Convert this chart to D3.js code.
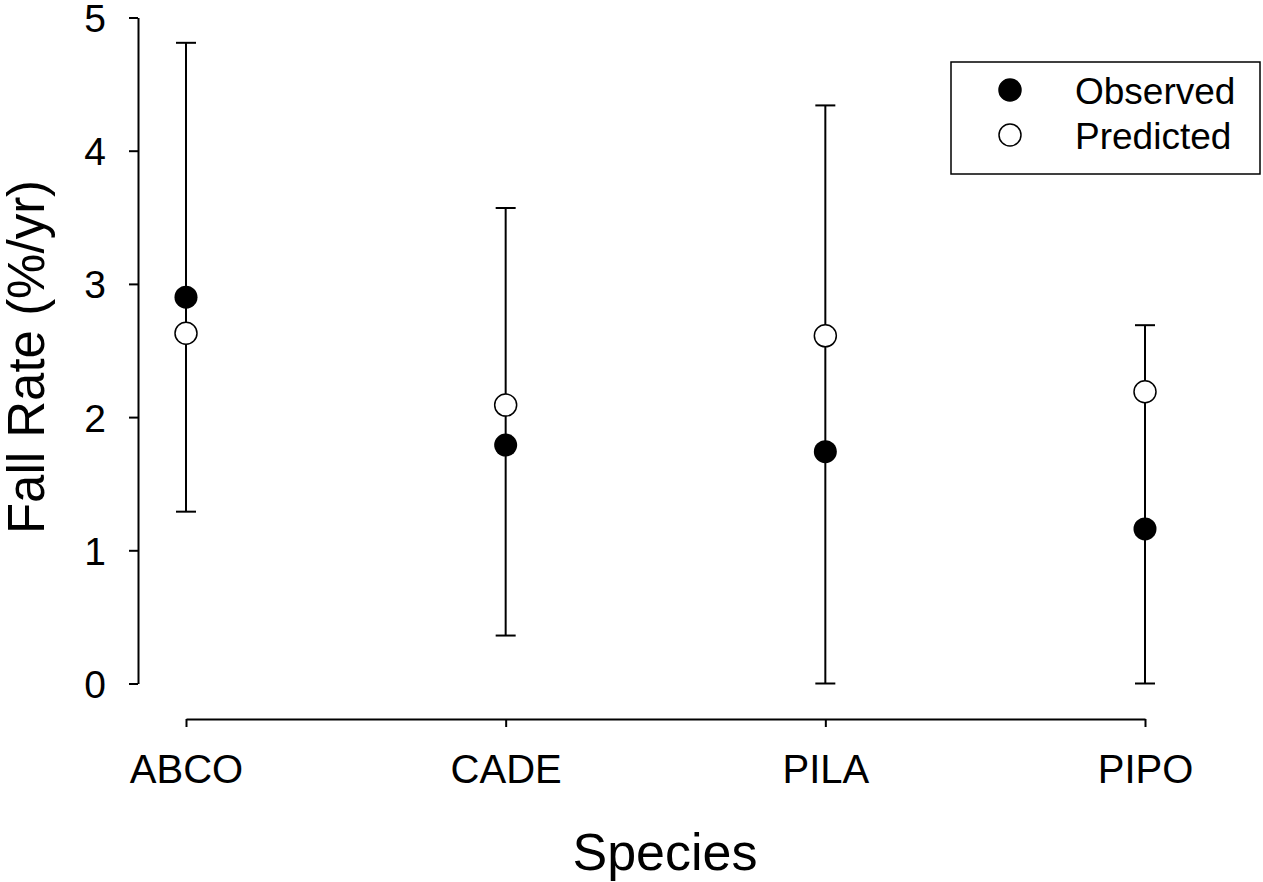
<!DOCTYPE html>
<html>
<head>
<meta charset="utf-8">
<script src="https://cdn.jsdelivr.net/npm/d3@7"></script>
<style>
  body { margin: 0; background: #fff; }
  text { font-family: "Liberation Sans", Arial, sans-serif; fill: #000; }
</style>
</head>
<body>
<div id="chart"></div>
<script>
const species = ["ABCO", "CADE", "PILA", "PIPO"];
const observed = [2.90, 1.79, 1.74, 1.16];
const predicted = [2.63, 2.09, 2.61, 2.19];
const errLow = [1.29, 0.36, 0.0, 0.0];
const errHigh = [4.81, 3.57, 4.34, 2.69];
const yTicks = [0, 1, 2, 3, 4, 5];

const width = 1263, height = 882;

const svg = d3.select("#chart").append("svg")
    .attr("width", width)
    .attr("height", height);

const x = d3.scalePoint()
    .domain(species)
    .range([186, 1145]);

const y = d3.scaleLinear()
    .domain([0, 5])
    .range([683.5, 17.5]);

// y axis
const yAxis = svg.append("g")
    .attr("transform", "translate(138,0)")
    .call(d3.axisLeft(y).tickValues(yTicks).tickFormat(d3.format("d"))
        .tickSize(9).tickSizeOuter(0).tickPadding(23));
yAxis.selectAll("path, line").attr("stroke", "#000").attr("stroke-width", 2);
yAxis.selectAll("text").style("font-size", "39px").attr("dy", "0.36em");

// x axis
const xAxis = svg.append("g")
    .attr("transform", "translate(0,719)")
    .call(d3.axisBottom(x).tickSize(8).tickSizeOuter(0).tickPadding(28));
xAxis.selectAll("path, line").attr("stroke", "#000").attr("stroke-width", 2);
xAxis.selectAll("text").style("font-size", "40px").attr("dy", "0.71em");

// axis titles
svg.append("text")
    .attr("x", 665)
    .attr("y", 870)
    .attr("text-anchor", "middle")
    .style("font-size", "52px")
    .text("Species");

svg.append("text")
    .attr("transform", "translate(44,357) rotate(-90)")
    .attr("text-anchor", "middle")
    .style("font-size", "51px")
    .text("Fall Rate (%/yr)");

// error bars
const bars = svg.append("g");
species.forEach((s, i) => {
  const cx = x(s);
  bars.append("line")
      .attr("x1", cx).attr("x2", cx)
      .attr("y1", y(errLow[i])).attr("y2", y(errHigh[i]))
      .attr("stroke", "#000").attr("stroke-width", 2);
  [errLow[i], errHigh[i]].forEach(v => {
    bars.append("line")
        .attr("x1", cx - 10).attr("x2", cx + 10)
        .attr("y1", y(v)).attr("y2", y(v))
        .attr("stroke", "#000").attr("stroke-width", 2);
  });
});

// points
svg.append("g").selectAll("circle")
    .data(species)
    .enter()
    .append("circle")
    .attr("cx", d => x(d))
    .attr("cy", (d, i) => y(predicted[i]))
    .attr("r", 11)
    .attr("fill", "#fff")
    .attr("stroke", "#000")
    .attr("stroke-width", 1.5);

svg.append("g").selectAll("circle")
    .data(species)
    .enter()
    .append("circle")
    .attr("cx", d => x(d))
    .attr("cy", (d, i) => y(observed[i]))
    .attr("r", 11.5)
    .attr("fill", "#000");

// legend
const legend = svg.append("g");
legend.append("rect")
    .attr("x", 951).attr("y", 62)
    .attr("width", 309).attr("height", 112)
    .attr("fill", "#fff")
    .attr("stroke", "#000")
    .attr("stroke-width", 1.5);

const legendItems = [
  { label: "Observed", fill: "#000", cy: 90, base: 104 },
  { label: "Predicted", fill: "#fff", cy: 135, base: 149 }
];
legendItems.forEach(d => {
  legend.append("circle")
      .attr("cx", 1010).attr("cy", d.cy).attr("r", 11)
      .attr("fill", d.fill)
      .attr("stroke", "#000")
      .attr("stroke-width", 1.5);
  legend.append("text")
      .attr("x", 1075).attr("y", d.base)
      .style("font-size", "37px")
      .text(d.label);
});
</script>
</body>
</html>
